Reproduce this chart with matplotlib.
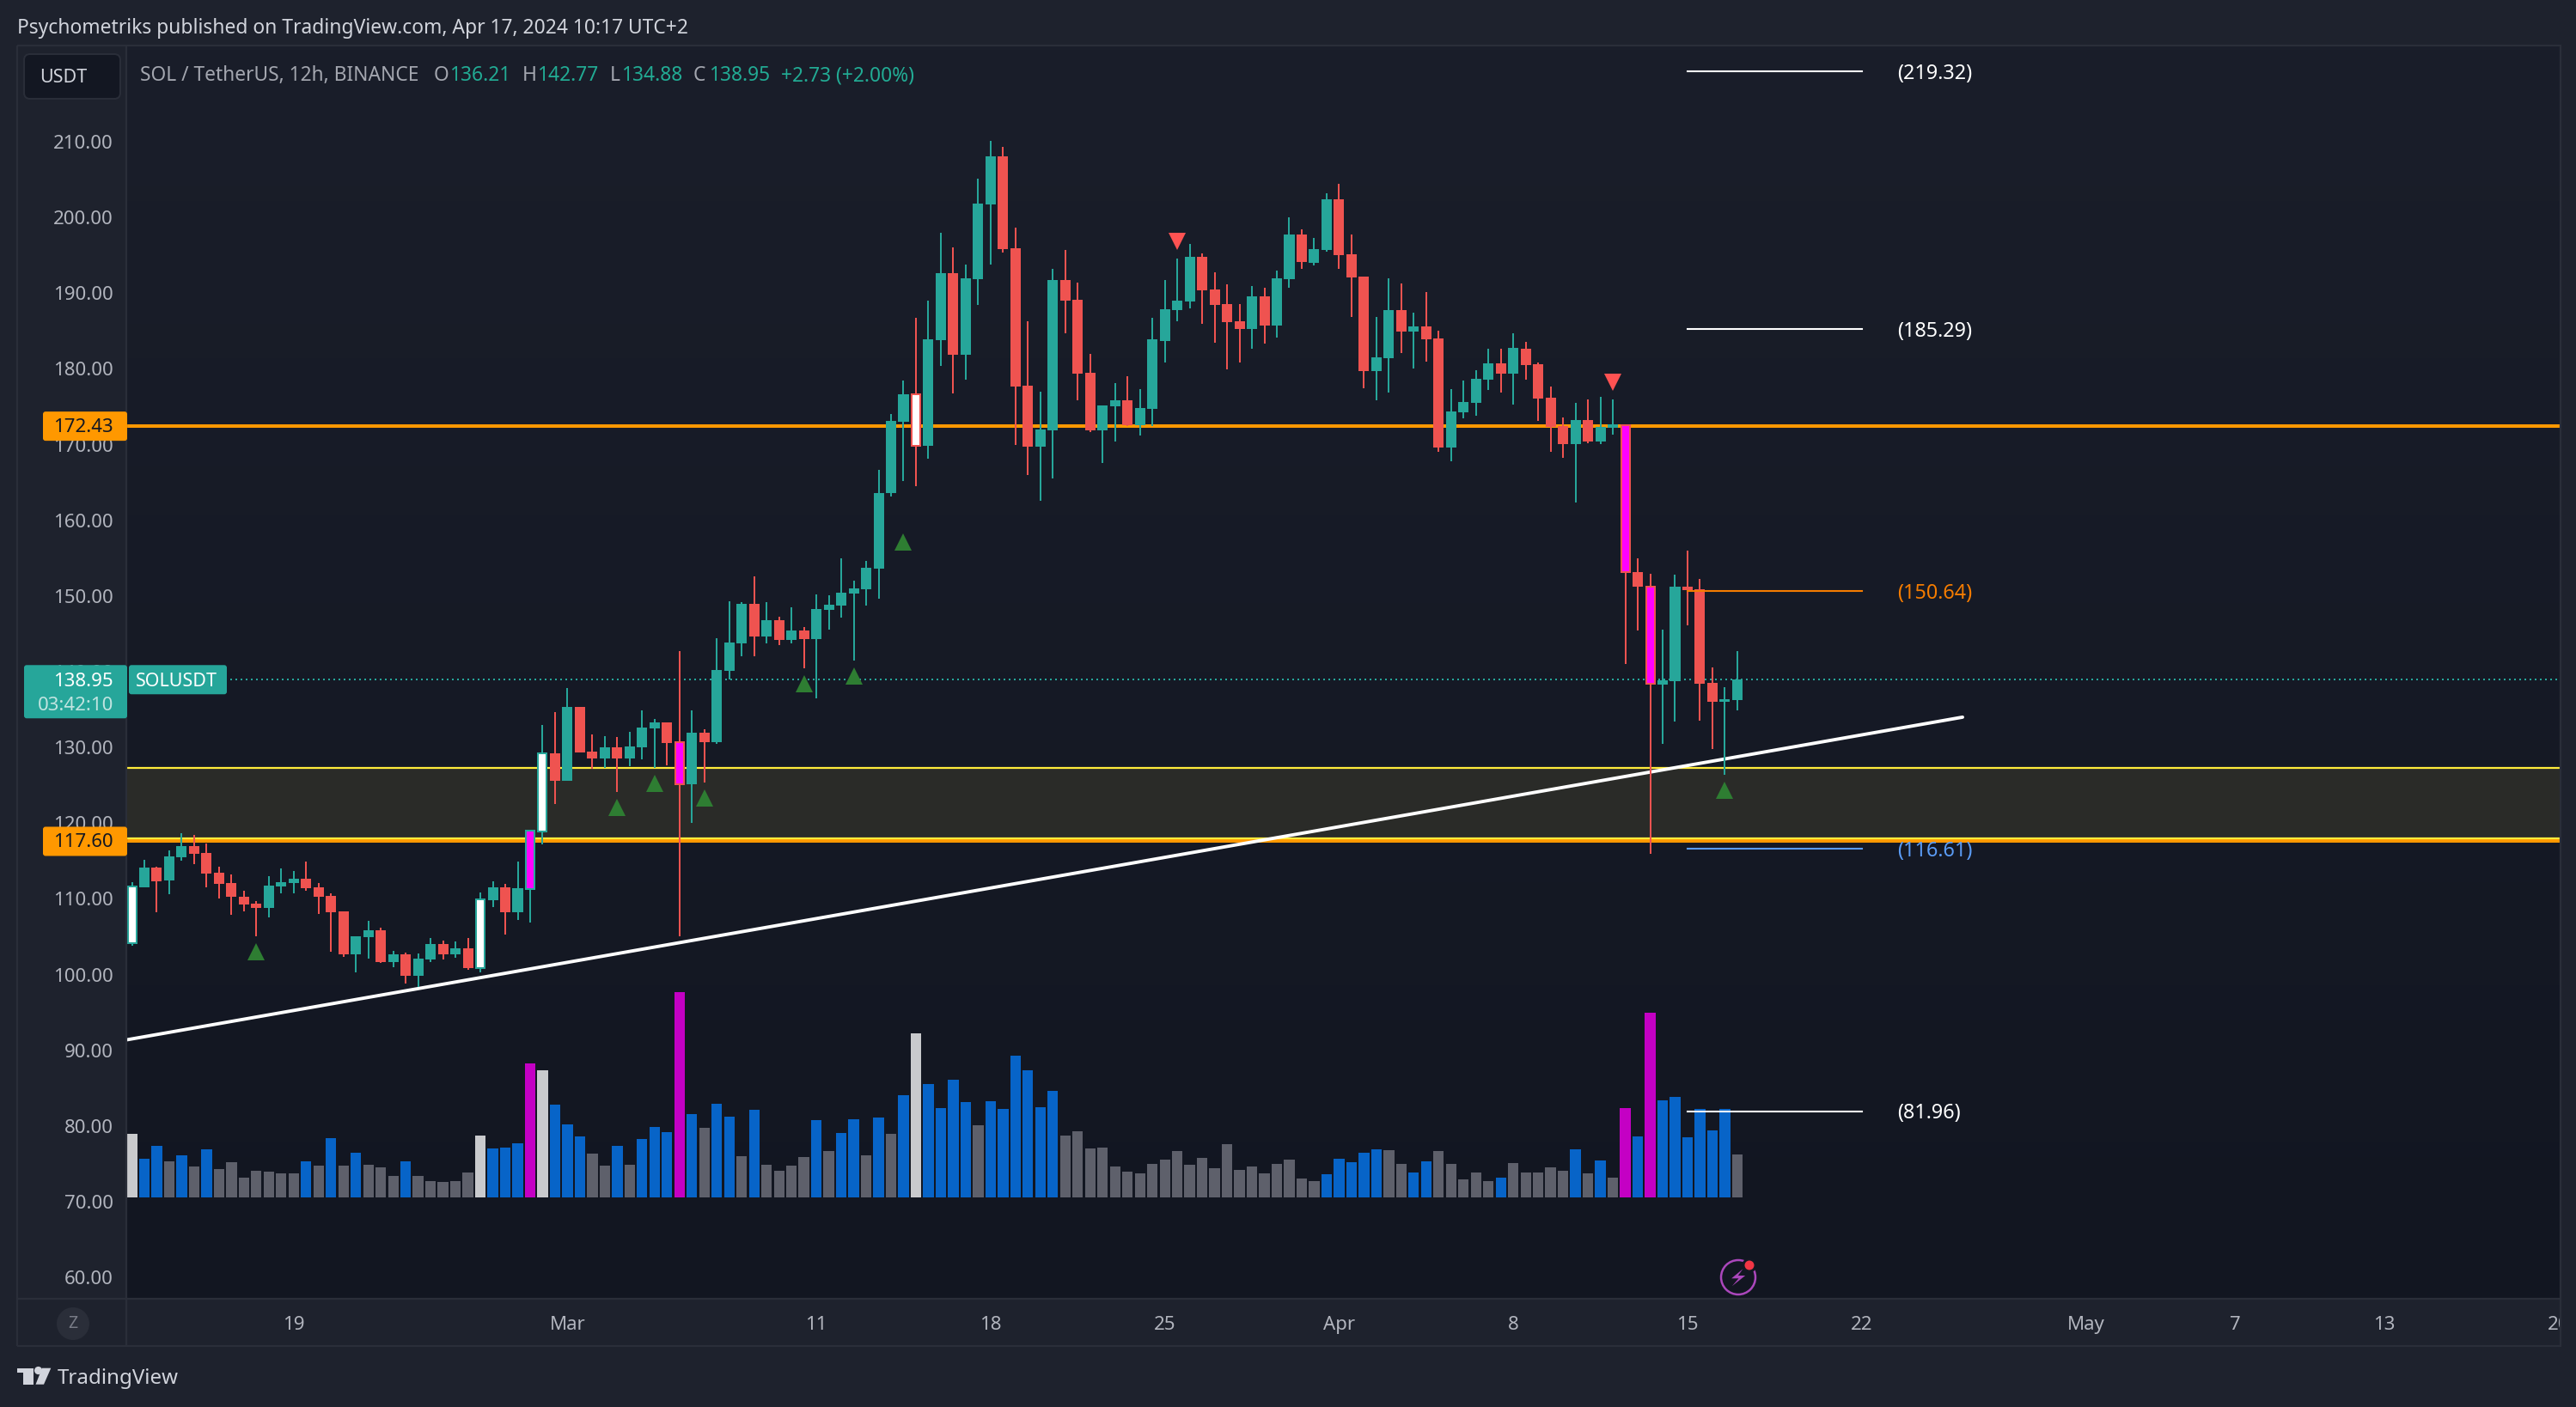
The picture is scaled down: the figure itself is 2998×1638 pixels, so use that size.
import numpy as np
import matplotlib
matplotlib.use("Agg")
import matplotlib.pyplot as plt
from matplotlib.patches import Rectangle, FancyBboxPatch, Circle, Ellipse, Polygon
from matplotlib.transforms import Bbox

plt.rcParams['font.family'] = ['Noto Sans', 'DejaVu Sans']

# ---------- data ----------
open_ = [104.19,111.53,114.14,112.44,115.50,116.97,116.07,113.46,112.10,110.28,
 109.37,108.81,111.64,112.10,112.66,111.53,110.39,108.35,102.68,104.95,
 105.86,101.66,102.68,99.84,102.00,104.04,102.68,103.47,100.86,109.83,
 111.53,108.24,111.30,118.90,129.22,125.59,135.35,129.45,128.55,130.02,
 128.55,130.02,132.52,133.31,130.70,125.14,131.95,130.70,140.12,143.75,
 148.96,144.65,146.81,144.20,145.45,144.31,148.17,148.74,150.33,150.89,
 153.62,163.6,173.02,176.65,169.84,183.79,192.64,181.86,191.85,201.72,
 208.07,195.93,177.78,169.73,171.88,191.73,189.12,179.48,171.88,175.06,
 175.85,172.56,174.72,183.68,187.76,188.90,194.80,190.49,188.56,186.29,
 185.27,189.58,185.72,191.85,197.75,194.0,195.71,202.40,195.14,192.19,
 179.71,181.41,187.77,184.93,185.61,184.02,169.61,174.27,175.51,178.58,
 180.73,179.37,182.66,180.62,176.19,172.45,170.07,173.24,170.41,172.22,
 172.59,153.13,151.22,138.29,138.76,151.26,150.91,138.52,136.05,136.21]
close = [111.60,114.14,112.32,115.61,116.97,115.95,113.34,111.98,110.28,109.26,
 108.81,111.75,112.21,112.66,111.41,110.28,108.24,102.68,105.06,105.86,
 101.66,102.68,99.84,102.11,104.04,102.68,103.47,100.86,109.94,111.53,
 108.24,111.41,119.01,129.22,125.59,135.35,129.34,128.55,130.02,128.55,
 130.13,132.63,133.31,130.59,125.14,131.95,130.70,140.23,143.86,148.96,
 144.65,146.81,144.20,145.45,144.31,148.28,148.85,150.44,151.01,153.73,
 163.6,173.13,176.65,169.84,183.91,192.64,181.86,191.96,201.83,208.07,
 195.82,177.67,169.73,171.99,191.73,189.01,179.37,171.88,175.17,175.85,
 172.56,174.83,183.91,187.88,189.01,194.80,190.37,188.44,186.18,185.27,
 189.58,185.72,191.96,197.75,194.12,195.82,202.40,195.03,192.08,179.71,
 181.53,187.77,184.93,185.61,183.91,169.61,174.38,175.63,178.69,180.73,
 179.37,182.77,180.51,176.08,172.34,170.07,173.24,170.41,172.33,172.68,
 153.13,151.18,138.37,138.88,151.26,150.80,138.41,136.02,136.21,138.95]
high = [112.17,115.16,114.25,116.41,118.67,118.45,117.31,114.25,113.23,111.07,
 109.71,113.00,114.02,113.68,114.93,112.10,110.73,108.35,105.06,107.10,
 106.20,103.13,102.91,102.79,104.83,104.49,104.38,104.83,110.85,112.32,
 111.98,114.93,119.01,132.97,134.67,137.85,135.35,131.72,131.49,131.38,
 132.06,134.90,133.76,133.31,142.72,134.90,132.40,144.43,149.30,149.19,
 152.59,149.19,147.26,148.51,145.90,150.21,150.10,154.98,152.03,154.64,
 166.66,174.04,178.46,186.74,189.01,197.97,196.04,193.78,205.12,210.11,
 209.32,198.65,186.29,176.99,193.21,195.70,191.39,181.98,175.17,178.12,
 179.03,177.33,186.74,191.73,194.57,196.50,195.25,192.75,191.17,188.56,
 190.94,190.71,192.98,200.02,198.43,197.29,203.19,204.44,197.75,192.19,
 186.86,191.96,191.28,187.43,190.15,185.04,177.33,178.46,179.82,182.66,
 182.66,184.70,183.57,180.85,177.67,173.58,175.51,175.97,176.31,175.97,
 172.59,154.93,152.90,145.52,152.82,155.99,152.27,140.60,137.98,142.77]
low = [103.81,111.53,108.24,110.62,115.04,114.59,111.53,110.05,107.90,108.35,
 105.06,107.56,110.73,110.73,111.07,108.01,103.02,102.34,100.30,102.11,
 101.55,100.98,98.8,98.4,101.66,102.00,102.23,100.64,100.30,108.92,
 105.29,107.22,106.88,117.20,122.53,125.59,129.34,127.18,127.30,124.12,
 127.52,128.43,127.30,127.64,105.06,120.04,125.37,130.47,138.98,142.04,
 142.04,143.75,143.52,143.75,140.46,136.49,145.56,147.15,141.48,148.74,
 149.65,163.2,165.2,164.51,168.14,180.39,176.76,178.57,188.44,193.78,
 195.36,169.95,165.98,162.6,165.53,184.70,175.85,171.65,167.57,170.41,
 172.45,171.20,172.45,180.84,186.29,187.99,185.95,183.45,179.94,180.84,
 182.66,183.34,184.13,190.72,193.21,193.66,195.48,193.21,186.86,177.44,
 175.85,176.88,182.09,180.05,180.96,169.05,167.80,173.47,173.81,177.22,
 176.88,175.29,178.58,173.13,169.05,168.25,162.4,170.18,170.07,171.31,
 141.02,145.44,115.99,130.48,133.45,146.14,133.56,129.81,126.42,134.88]
volume = [222,135,180,126,147,108,168,99,123,69,93,90,84,84,126,111,207,111,156,114,
 105,75,126,75,57,54,57,87,216,171,174,189,468,444,324,255,213,153,111,180,
 114,204,246,228,717,291,243,327,282,144,306,114,93,111,141,270,162,225,273,147,
 279,222,357,573,396,312,411,333,252,336,309,495,444,315,372,216,231,171,174,108,
 90,84,117,132,162,114,138,102,186,96,108,84,117,132,66,57,81,135,123,156,
 168,165,117,87,126,162,117,63,87,57,69,120,87,87,105,93,168,84,129,69,
 312,213,645,339,351,210,309,234,309,150]
vol_kind = list("LBBGBGBGGGGGGGBGBGBG"
                "GGBGGGGGLBBBMLBBBGGB"
                "GBBBMBGBBGBGGGGBGBBG"
                "BGBLBBBBGBBBBBBGGGGG"
                "GGGGGGGGGGGGGGGGBBBB"
                "BGGBBGGGGGBGGGGGBGBG"
                "MBMBBBBBBG")
white_up = [0, 28, 33]
white_down = [63]
magenta_up = [32]
magenta_down = [44, 120, 122]

up_sig_x = [10, 39, 42, 46, 54, 58, 62, 128]
up_sig_y = [103.0, 122.1, 125.3, 123.3, 138.4, 139.4, 157.1, 124.3]
down_sig_x = [84, 119]
down_sig_y = [196.8, 178.2]

price_ticks = [60, 70, 80, 90, 100, 110, 120, 130, 140, 150, 160, 170, 180, 190, 200, 210]
time_pos = [13, 35, 55, 69, 83, 97, 111, 125, 139, 157, 169, 181, 195]
time_lbl = ['19', 'Mar', '11', '18', '25', 'Apr', '8', '15', '22', 'May', '7', '13', '20']
time_bold = ['Mar', 'Apr', 'May']

level_hi = 172.43
level_lo = 117.60
zone_top = 127.3
zone_bot = 118.0
last_price = 138.95
trend_x = [-0.38, 147.1]
trend_y = [91.4, 134.0]
target_vals = [219.32, 185.29, 150.64, 116.61, 81.96]
target_cols = ['#ffffff', '#ffffff', '#f57c00', '#5b9cf6', '#ffffff']
target_x = [125, 139]

# ---------- palette ----------
OUTER = '#1e222d'
LINE = '#2a2e39'
UP = '#26a69a'
DN = '#ef5350'
ORANGE = '#ff9800'
TXT = '#b2b5be'
KIND = {'L': '#c9cacd', 'B': '#0764c8', 'G': '#5e606b', 'M': '#c400c4'}

W, H = 2998, 1638
fig = plt.figure(figsize=(W / 100, H / 100), dpi=100, facecolor=OUTER)
L, R, T, B = 148, 2979, 53, 1512
rect = [L / W, (H - B) / H, (R - L) / W, (B - T) / H]
xlim = (-0.38, 195.08)

# volume axes + background gradient
av = fig.add_axes(rect, zorder=0)
av.set_xlim(*xlim)
av.set_ylim(-354, 4023)
av.axis('off')
grad = np.linspace(0, 1, 256).reshape(-1, 1)
c0, c1 = np.array([0x1a, 0x1e, 0x2a]) / 255, np.array([0x12, 0x16, 0x21]) / 255
img = (c0[None, None, :] * (1 - grad[..., None]) + c1[None, None, :] * grad[..., None])
av.imshow(img, extent=(0, 1, 0, 1), transform=av.transAxes, aspect='auto', zorder=0)
av.set_xlim(*xlim)
av.set_ylim(-354, 4023)
idx = np.arange(len(close))
av.bar(idx, volume, width=0.85, color=[KIND[k] for k in vol_kind], linewidth=0, zorder=2)

# price axes
ax = fig.add_axes(rect, zorder=1)
ax.patch.set_visible(False)
ax.set_xlim(*xlim)
ax.set_ylim(57.19, 222.7)
for s in ax.spines.values():
    s.set_visible(False)
ax.set_yticks(price_ticks)
ax.set_yticklabels([f'{v:.2f}' for v in price_ticks])
ax.tick_params(axis='y', length=0, pad=11.5, labelsize=16, labelcolor=TXT)
ax.set_xticks(time_pos)
ax.set_xticklabels(time_lbl)
ax.tick_params(axis='x', length=0, pad=14.5, labelsize=16, labelcolor=TXT)
clip = Bbox([[L, 0], [R, H]])
for t in ax.get_xticklabels():
    if t.get_text() in time_bold:
        t.set_fontweight('bold')
    t.set_clip_box(clip)
    t.set_clip_on(True)

# zone and levels
ax.axhspan(zone_bot, zone_top, color='#2a2b28', lw=0, zorder=1)
ax.axhline(zone_top, color='#ffeb3b', lw=1.6, zorder=1.2)
ax.axhline(level_lo, color=ORANGE, lw=2.9, zorder=1.2)
ax.axhline(zone_bot, color='#ffeb3b', lw=1.6, zorder=1.3)
ax.axhline(level_hi, color=ORANGE, lw=2.9, zorder=1.2)
ax.plot([7.9, xlim[1]], [last_price, last_price], color=UP, lw=1.44,
        ls=(0, (1, 2)), zorder=1.4)
ax.plot(trend_x, trend_y, color='#ffffff', lw=2.8, zorder=1.5, solid_capstyle='round')

# candles
o, c, h, l = map(np.array, (open_, close, high, low))
up = c >= o
col = np.where(up, UP, DN)
ax.vlines(idx, l, h, colors=col, lw=1.44, zorder=3)
special = set(white_up + white_down + magenta_up + magenta_down)
plain = np.array([i for i in idx if i not in special])
ax.bar(plain, np.maximum(np.abs(c - o)[plain], 0.35), bottom=np.minimum(o, c)[plain],
       width=0.83, color=col[plain], linewidth=0, zorder=4)
for ids, face in ((white_up + white_down, '#ffffff'), (magenta_up + magenta_down, '#ff00ff')):
    ids = np.array(ids)
    ax.bar(ids, np.abs(c - o)[ids], bottom=np.minimum(o, c)[ids], width=0.69,
           color=face, edgecolor=col[ids], linewidth=1.44, zorder=4)

# signals
ax.plot(up_sig_x, up_sig_y, ls='none', marker='^', ms=14, mfc='#2e7d32', mew=0, zorder=5)
ax.plot(down_sig_x, down_sig_y, ls='none', marker='v', ms=14, mfc='#ff5252', mew=0, zorder=5)

# target levels
for v, cl in zip(target_vals, target_cols):
    ax.plot(target_x, [v, v], color=cl, lw=1.5, zorder=4.5)
    ax.annotate(f'({v:.2f})', (target_x[1], v), xytext=(30, -2), textcoords='offset points',
                color=cl, fontsize=16.8, va='center', ha='left', zorder=6, annotation_clip=False)

# ---------- overlay chrome (pixel coordinates) ----------
ov = fig.add_axes([0, 0, 1, 1], zorder=5)
ov.set_xlim(0, W)
ov.set_ylim(H, 0)
ov.axis('off')
ov.patch.set_visible(False)

def ypx(p):
    return H - ax.transData.transform((0, p))[1]

for x0, y0, x1, y1 in [(20, 53, 2981, 53), (20, 1512, 2980, 1512), (20, 1567, 2981, 1567),
                       (20, 53, 20, 1567), (147, 53, 147, 1567), (2980, 53, 2980, 1567)]:
    ov.plot([x0, x1], [y0, y1], color=LINE, lw=1.6, solid_capstyle='butt')

def box(x0, y0, x1, y1, fc, ec='none', rad=3, lw=0, z=3):
    ov.add_patch(FancyBboxPatch((x0 + rad, y0 + rad), x1 - x0 - 2 * rad, y1 - y0 - 2 * rad,
                                boxstyle=f'round,pad={rad},rounding_size={rad}',
                                fc=fc, ec=ec, lw=lw, zorder=z))

# USDT button
box(28, 63, 140, 115, '#131722', LINE, rad=7, lw=1.4)
ov.text(74, 91, 'USDT', color='#d1d4dc', fontsize=15.5, ha='center', va='center')

# title and legend
ov.text(20, 33, 'Psychometriks published on TradingView.com, Apr 17, 2024 10:17 UTC+2',
        color='#d1d4dc', fontsize=16.45, ha='left', va='center')
GREY = '#a3a6af'
TEAL = '#22ab94'
leg = [(163.5, 'SOL / TetherUS, 12h, BINANCE', GREY), (505, 'O', GREY), (523, '136.21', TEAL),
       (608, 'H', GREY), (625, '142.77', TEAL), (710, 'L', GREY), (723, '134.88', TEAL),
       (807, 'C', GREY), (825, '138.95', TEAL), (909, '+2.73 (+2.00%)', TEAL)]
for x, s, cl in leg:
    ov.text(x, 88, s, color=cl, fontsize=16.4, ha='left', va='center')

# price tags
yl = ypx(last_price)
box(28, yl - 17, 148, yl + 45, UP)
ov.text(132, yl + 2, f'{last_price:.2f}', color='#ffffff', fontsize=16, ha='right', va='center')
ov.text(132, yl + 30, '03:42:10', color='#c0e4e0', fontsize=16, ha='right', va='center')
box(150, yl - 17, 264, yl + 17, UP)
ov.text(158, yl + 2, 'SOLUSDT', color='#ffffff', fontsize=15.5, ha='left', va='center')
for p in (level_hi, level_lo):
    y = ypx(p)
    box(50, y - 17, 148, y + 17, ORANGE)
    ov.text(132, y + 1, f'{p:.2f}', color='#131722', fontsize=16, ha='right', va='center')

# Z button
ov.add_patch(Ellipse((85, 1541), 38, 38, fc=LINE, ec='none'))
ov.text(85, 1541, 'Z', color='#787b86', fontsize=14, ha='center', va='center')

# lightning icon
ov.add_patch(Circle((2023, 1487), 20, fc='none', ec='#ab47bc', lw=1.8))
bolt = [(2028.4, 1477.3), (2015.1, 1488.3), (2023.5, 1488.3), (2015.8, 1497.3),
        (2031.2, 1485), (2022.8, 1485)]
ov.add_patch(Polygon(bolt, closed=True, fc='#ab47bc', ec='none'))
ov.add_patch(Circle((2036, 1473), 8.5, fc='#131722', ec='none'))
ov.add_patch(Circle((2036, 1473), 5.5, fc='#f23645', ec='none'))

# TradingView logo
LOGO = '#d1d4dc'
ov.add_patch(Polygon([(20.4, 1592.7), (39.5, 1592.7), (39.5, 1611.7), (26.8, 1611.7),
                      (26.8, 1598), (20.4, 1598)], closed=True, fc=LOGO, ec='none'))
ov.add_patch(Circle((44.6, 1595.5), 4.6, fc=LOGO, ec='none'))
ov.add_patch(Polygon([(59.3, 1592.7), (49, 1592.7), (41.5, 1611.7), (51, 1611.7)],
                     closed=True, fc=LOGO, ec='none'))
ov.text(67, 1605, 'TradingView', color=LOGO, fontsize=17.3, ha='left', va='center')

fig.savefig('out.png', dpi=100, facecolor=OUTER)
